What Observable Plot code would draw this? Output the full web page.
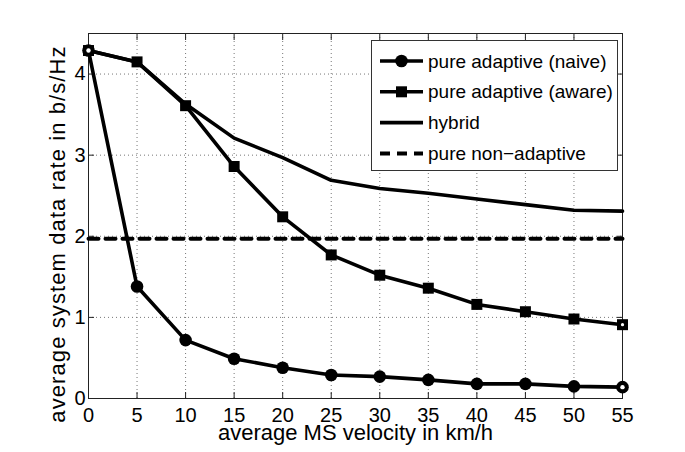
<!DOCTYPE html>
<html><head><meta charset="utf-8">
<script src="https://cdn.jsdelivr.net/npm/d3@7"></script>
<script src="https://cdn.jsdelivr.net/npm/@observablehq/plot@0.6"></script>
<style>
body{margin:0;background:#fff;}
#wrap{position:relative;width:685px;height:452px;font-family:"Liberation Sans",Arial,sans-serif;}
</style></head><body><div id="wrap"></div>
<script>
const velocity = [0, 5, 10, 15, 20, 25, 30, 35, 40, 45, 50, 55];
const naive  = [4.29, 1.38, 0.72, 0.49, 0.38, 0.29, 0.27, 0.23, 0.18, 0.18, 0.15, 0.14];
const aware  = [4.29, 4.15, 3.61, 2.86, 2.24, 1.77, 1.52, 1.36, 1.16, 1.07, 0.98, 0.91];
const hybrid = [4.29, 4.15, 3.63, 3.21, 2.97, 2.69, 2.59, 2.53, 2.46, 2.39, 2.32, 2.31];
const nonAdaptive = 1.97;
const seriesNames = ["pure adaptive (naive)", "pure adaptive (aware)", "hybrid", "pure non\u2212adaptive"];
const xTicks = [0, 5, 10, 15, 20, 25, 30, 35, 40, 45, 50, 55];
const yTicks = [0, 1, 2, 3, 4];
const xTitle = "average MS velocity in km/h";
const yTitle = "average system data rate in b/s/Hz";

const rows = (vals) => velocity.map((v, i) => ({v, r: vals[i]}));
const naiveRows = rows(naive);
const awareRows = rows(aware);
const hybridRows = rows(hybrid);
const flatRows = velocity.map(v => ({v, r: nonAdaptive}));
const ends = (rs) => rs.filter((d, i) => i === 0 || i === rs.length - 1);

const font = "Liberation Sans, Arial, sans-serif";
const LW = 3.6;
const fmt = d => String(d);

const chart = Plot.plot({
  width: 685, height: 452,
  marginLeft: 88, marginRight: 63, marginTop: 33, marginBottom: 54,
  style: {fontFamily: font, fontSize: "20px", background: "#fff", color: "#000"},
  x: {domain: [0, 55]},
  y: {domain: [0, 4.5]},
  marks: [
    Plot.gridX(xTicks, {stroke: "#777", strokeOpacity: 1, strokeDasharray: "1,3"}),
    Plot.gridY(yTicks, {stroke: "#777", strokeOpacity: 1, strokeDasharray: "1,3"}),
    Plot.axisX({anchor: "bottom", ticks: xTicks, tickSize: -6, tickPadding: 15, tickFormat: fmt, fontSize: 20, label: null, stroke: "#222"}),
    Plot.axisX({anchor: "top", ticks: xTicks, tickSize: -6, tickFormat: () => "", label: null, stroke: "#222"}),
    Plot.axisY({anchor: "left", ticks: yTicks, tickSize: -6, tickPadding: 9, tickFormat: fmt, fontSize: 20, label: null, stroke: "#222"}),
    Plot.axisY({anchor: "right", ticks: yTicks, tickSize: -6, tickFormat: () => "", label: null, stroke: "#222"}),
    Plot.frame({stroke: "#222", strokeWidth: 1}),
    Plot.line(flatRows, {x: "v", y: "r", stroke: "#000", strokeWidth: 4, strokeDasharray: "10,7"}),
    Plot.line(hybridRows, {x: "v", y: "r", stroke: "#000", strokeWidth: LW, strokeLinejoin: "round"}),
    Plot.line(awareRows, {x: "v", y: "r", stroke: "#000", strokeWidth: LW, strokeLinejoin: "round"}),
    Plot.dot(awareRows, {x: "v", y: "r", symbol: "square", r: 6.2, fill: "#000"}),
    Plot.line(naiveRows, {x: "v", y: "r", stroke: "#000", strokeWidth: LW, strokeLinejoin: "round"}),
    Plot.dot(naiveRows, {x: "v", y: "r", symbol: "circle", r: 6.3, fill: "#000"}),
    Plot.dot(ends(naiveRows), {x: "v", y: "r", r: 2.2, fill: "#fff"}),
    Plot.dot(ends(awareRows).slice(1), {x: "v", y: "r", r: 1.6, fill: "#fff"}),
    Plot.text([xTitle], {text: d => d, frameAnchor: "bottom", textAnchor: "middle", dy: 41, fontSize: 22}),
    Plot.text([yTitle], {text: d => d, frameAnchor: "left", textAnchor: "middle", rotate: -90, dx: -31, dy: 18, fontSize: 22})
  ]
});
document.getElementById("wrap").appendChild(chart);

// enforce text sizes directly on each text element
d3.select(chart).selectAll("text").each(function() {
  const t = this.textContent;
  const s = (t === xTitle || t === yTitle) ? "22px" : "20px";
  d3.select(this).style("font-size", s).style("font-family", font);
  if (t === yTitle) d3.select(this).style("letter-spacing", "1.1px");
});

// legend
const lw = 247, lh = 131;
const leg = d3.create("svg").attr("id", "legend").attr("width", lw).attr("height", lh)
  .style("position", "absolute").style("left", "371px").style("top", "40px");
leg.append("rect").attr("x", 0.5).attr("y", 0.5).attr("width", lw - 1).attr("height", lh - 1)
  .attr("fill", "#fff").attr("stroke", "#333").attr("stroke-width", 1);
const markers = ["circle", "square", null, null];
seriesNames.forEach((name, i) => {
  const y = 21 + i * 30.8;
  const g = leg.append("g");
  g.append("line").attr("x1", 9).attr("x2", 52).attr("y1", y).attr("y2", y)
    .attr("stroke", "#000").attr("stroke-width", i === 3 ? 4 : LW)
    .attr("stroke-dasharray", i === 3 ? "10,7" : null);
  if (markers[i] === "circle") g.append("circle").attr("cx", 30.5).attr("cy", y).attr("r", 6.3).attr("fill", "#000");
  if (markers[i] === "square") g.append("rect").attr("x", 30.5 - 5.5).attr("y", y - 5.5).attr("width", 11).attr("height", 11).attr("fill", "#000");
  g.append("text").attr("x", 57).attr("y", y).attr("dy", "0.35em")
    .attr("font-family", font).attr("font-size", 19).attr("fill", "#000").text(name);
});
document.getElementById("wrap").appendChild(leg.node());
</script>
</body></html>
